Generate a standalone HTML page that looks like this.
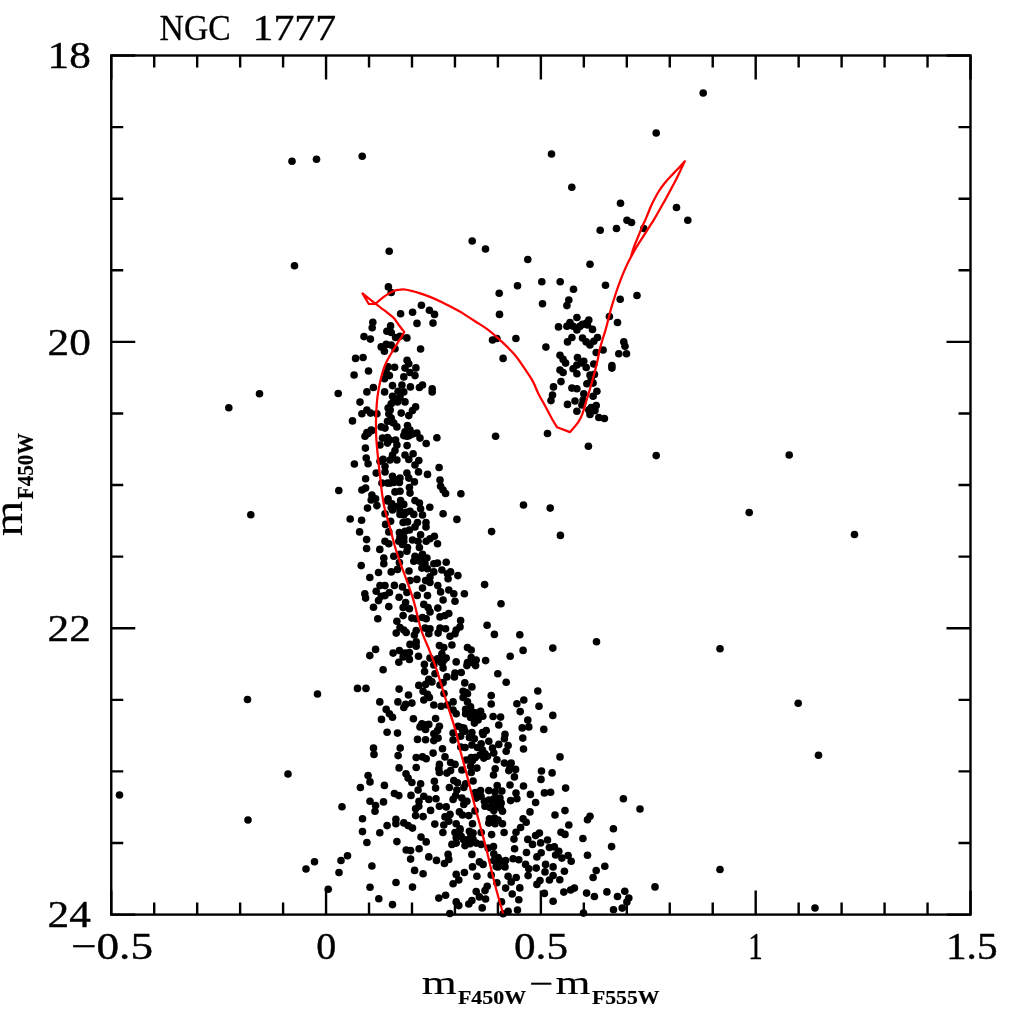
<!DOCTYPE html>
<html lang="en"><head><meta charset="utf-8"><title>NGC 1777</title>
<style>html,body{margin:0;padding:0;background:#fff}svg{display:block;filter:blur(0.5px)}</style></head>
<body>
<svg width="1024" height="1024" viewBox="0 0 1024 1024">
<rect width="1024" height="1024" fill="#fff"/>
<g fill="#000">
<circle cx="292.0" cy="161.2" r="3.8"/>
<circle cx="316.5" cy="159.2" r="3.8"/>
<circle cx="294.5" cy="265.8" r="3.8"/>
<circle cx="362.2" cy="156.2" r="3.8"/>
<circle cx="551.5" cy="154.0" r="3.8"/>
<circle cx="571.8" cy="187.2" r="3.8"/>
<circle cx="600.2" cy="230.2" r="3.8"/>
<circle cx="472.2" cy="241.0" r="3.8"/>
<circle cx="485.5" cy="249.0" r="3.8"/>
<circle cx="389.2" cy="251.2" r="3.8"/>
<circle cx="527.8" cy="259.5" r="3.8"/>
<circle cx="590.0" cy="264.2" r="3.8"/>
<circle cx="541.8" cy="281.8" r="3.8"/>
<circle cx="560.2" cy="281.8" r="3.8"/>
<circle cx="517.5" cy="285.8" r="3.8"/>
<circle cx="573.5" cy="289.2" r="3.8"/>
<circle cx="605.5" cy="285.2" r="3.8"/>
<circle cx="499.2" cy="293.2" r="3.8"/>
<circle cx="703.2" cy="93.0" r="3.8"/>
<circle cx="656.2" cy="133.0" r="3.8"/>
<circle cx="620.5" cy="203.2" r="3.8"/>
<circle cx="676.5" cy="207.5" r="3.8"/>
<circle cx="687.8" cy="220.2" r="3.8"/>
<circle cx="627.0" cy="220.2" r="3.8"/>
<circle cx="631.5" cy="222.5" r="3.8"/>
<circle cx="616.5" cy="228.5" r="3.8"/>
<circle cx="643.8" cy="228.5" r="3.8"/>
<circle cx="637.0" cy="295.5" r="3.8"/>
<circle cx="620.2" cy="299.2" r="3.8"/>
<circle cx="259.5" cy="393.8" r="3.8"/>
<circle cx="228.8" cy="407.8" r="3.8"/>
<circle cx="338.2" cy="393.5" r="3.8"/>
<circle cx="338.8" cy="490.5" r="3.8"/>
<circle cx="250.8" cy="514.8" r="3.8"/>
<circle cx="350.2" cy="519.0" r="3.8"/>
<circle cx="789.2" cy="455.0" r="3.8"/>
<circle cx="749.2" cy="512.5" r="3.8"/>
<circle cx="854.5" cy="534.5" r="3.8"/>
<circle cx="720.0" cy="648.8" r="3.8"/>
<circle cx="798.2" cy="703.2" r="3.8"/>
<circle cx="818.5" cy="755.2" r="3.8"/>
<circle cx="720.0" cy="869.5" r="3.8"/>
<circle cx="815.0" cy="908.0" r="3.8"/>
<circle cx="247.5" cy="699.5" r="3.8"/>
<circle cx="317.5" cy="694.0" r="3.8"/>
<circle cx="288.0" cy="774.0" r="3.8"/>
<circle cx="119.5" cy="795.0" r="3.8"/>
<circle cx="248.0" cy="820.0" r="3.8"/>
<circle cx="342.0" cy="806.8" r="3.8"/>
<circle cx="314.5" cy="861.8" r="3.8"/>
<circle cx="306.0" cy="869.0" r="3.8"/>
<circle cx="347.5" cy="855.8" r="3.8"/>
<circle cx="341.0" cy="860.5" r="3.8"/>
<circle cx="339.0" cy="872.5" r="3.8"/>
<circle cx="328.2" cy="889.2" r="3.8"/>
<circle cx="388.4" cy="286.9" r="3.8"/>
<circle cx="391.2" cy="292.5" r="3.8"/>
<circle cx="421.4" cy="305.2" r="3.8"/>
<circle cx="429.4" cy="310.2" r="3.8"/>
<circle cx="434.5" cy="314.4" r="3.8"/>
<circle cx="400.6" cy="313.8" r="3.8"/>
<circle cx="412.6" cy="312.2" r="3.8"/>
<circle cx="417.0" cy="323.4" r="3.8"/>
<circle cx="433.0" cy="323.1" r="3.8"/>
<circle cx="372.8" cy="322.2" r="3.8"/>
<circle cx="372.2" cy="327.8" r="3.8"/>
<circle cx="390.6" cy="325.9" r="3.8"/>
<circle cx="386.9" cy="331.2" r="3.8"/>
<circle cx="391.2" cy="332.5" r="3.8"/>
<circle cx="395.6" cy="337.5" r="3.8"/>
<circle cx="400.0" cy="336.2" r="3.8"/>
<circle cx="406.9" cy="337.9" r="3.8"/>
<circle cx="364.0" cy="336.6" r="3.8"/>
<circle cx="370.4" cy="339.1" r="3.8"/>
<circle cx="381.2" cy="346.9" r="3.8"/>
<circle cx="386.2" cy="344.4" r="3.8"/>
<circle cx="391.2" cy="345.0" r="3.8"/>
<circle cx="384.4" cy="351.2" r="3.8"/>
<circle cx="395.0" cy="348.8" r="3.8"/>
<circle cx="420.6" cy="349.0" r="3.8"/>
<circle cx="355.6" cy="358.4" r="3.8"/>
<circle cx="363.1" cy="357.5" r="3.8"/>
<circle cx="407.1" cy="360.2" r="3.8"/>
<circle cx="408.8" cy="363.8" r="3.8"/>
<circle cx="388.1" cy="366.9" r="3.8"/>
<circle cx="394.6" cy="367.2" r="3.8"/>
<circle cx="405.0" cy="368.1" r="3.8"/>
<circle cx="415.9" cy="367.9" r="3.8"/>
<circle cx="368.5" cy="371.0" r="3.8"/>
<circle cx="354.1" cy="375.0" r="3.8"/>
<circle cx="386.2" cy="372.5" r="3.8"/>
<circle cx="389.4" cy="375.6" r="3.8"/>
<circle cx="384.4" cy="378.8" r="3.8"/>
<circle cx="403.8" cy="376.9" r="3.8"/>
<circle cx="410.0" cy="372.5" r="3.8"/>
<circle cx="415.0" cy="375.6" r="3.8"/>
<circle cx="392.5" cy="385.6" r="3.8"/>
<circle cx="401.9" cy="385.0" r="3.8"/>
<circle cx="410.4" cy="386.9" r="3.8"/>
<circle cx="419.4" cy="387.5" r="3.8"/>
<circle cx="422.5" cy="385.0" r="3.8"/>
<circle cx="432.2" cy="388.8" r="3.8"/>
<circle cx="432.2" cy="391.9" r="3.8"/>
<circle cx="373.4" cy="387.5" r="3.8"/>
<circle cx="366.9" cy="391.9" r="3.8"/>
<circle cx="384.6" cy="391.9" r="3.8"/>
<circle cx="398.1" cy="391.2" r="3.8"/>
<circle cx="403.8" cy="391.9" r="3.8"/>
<circle cx="392.5" cy="396.2" r="3.8"/>
<circle cx="398.1" cy="398.8" r="3.8"/>
<circle cx="360.0" cy="402.1" r="3.8"/>
<circle cx="405.0" cy="401.9" r="3.8"/>
<circle cx="397.5" cy="401.9" r="3.8"/>
<circle cx="391.2" cy="403.8" r="3.8"/>
<circle cx="415.6" cy="406.9" r="3.8"/>
<circle cx="412.5" cy="410.6" r="3.8"/>
<circle cx="408.8" cy="415.6" r="3.8"/>
<circle cx="401.2" cy="413.1" r="3.8"/>
<circle cx="388.1" cy="408.1" r="3.8"/>
<circle cx="388.8" cy="413.8" r="3.8"/>
<circle cx="366.9" cy="410.0" r="3.8"/>
<circle cx="361.9" cy="413.8" r="3.8"/>
<circle cx="370.6" cy="413.1" r="3.8"/>
<circle cx="376.9" cy="413.8" r="3.8"/>
<circle cx="352.5" cy="420.9" r="3.8"/>
<circle cx="391.2" cy="418.1" r="3.8"/>
<circle cx="387.5" cy="421.2" r="3.8"/>
<circle cx="393.8" cy="423.1" r="3.8"/>
<circle cx="396.9" cy="426.9" r="3.8"/>
<circle cx="407.5" cy="425.6" r="3.8"/>
<circle cx="381.2" cy="426.9" r="3.8"/>
<circle cx="385.0" cy="428.1" r="3.8"/>
<circle cx="371.2" cy="430.0" r="3.8"/>
<circle cx="366.9" cy="432.5" r="3.8"/>
<circle cx="365.0" cy="436.2" r="3.8"/>
<circle cx="405.0" cy="431.9" r="3.8"/>
<circle cx="410.0" cy="430.0" r="3.8"/>
<circle cx="403.8" cy="435.6" r="3.8"/>
<circle cx="409.4" cy="435.6" r="3.8"/>
<circle cx="416.9" cy="433.1" r="3.8"/>
<circle cx="420.0" cy="438.1" r="3.8"/>
<circle cx="426.2" cy="443.5" r="3.8"/>
<circle cx="436.9" cy="437.8" r="3.8"/>
<circle cx="382.5" cy="438.1" r="3.8"/>
<circle cx="387.5" cy="437.5" r="3.8"/>
<circle cx="395.6" cy="440.0" r="3.8"/>
<circle cx="380.0" cy="445.0" r="3.8"/>
<circle cx="387.5" cy="443.1" r="3.8"/>
<circle cx="396.9" cy="445.0" r="3.8"/>
<circle cx="407.1" cy="445.6" r="3.8"/>
<circle cx="365.4" cy="448.1" r="3.8"/>
<circle cx="395.0" cy="450.6" r="3.8"/>
<circle cx="392.5" cy="455.0" r="3.8"/>
<circle cx="405.0" cy="455.0" r="3.8"/>
<circle cx="413.1" cy="453.8" r="3.8"/>
<circle cx="408.8" cy="459.4" r="3.8"/>
<circle cx="366.2" cy="458.1" r="3.8"/>
<circle cx="368.1" cy="463.8" r="3.8"/>
<circle cx="354.4" cy="464.0" r="3.8"/>
<circle cx="380.0" cy="461.2" r="3.8"/>
<circle cx="383.1" cy="459.4" r="3.8"/>
<circle cx="390.0" cy="460.0" r="3.8"/>
<circle cx="396.9" cy="460.0" r="3.8"/>
<circle cx="418.8" cy="460.6" r="3.8"/>
<circle cx="415.0" cy="465.0" r="3.8"/>
<circle cx="385.0" cy="466.2" r="3.8"/>
<circle cx="385.0" cy="471.9" r="3.8"/>
<circle cx="376.2" cy="473.1" r="3.8"/>
<circle cx="406.9" cy="473.1" r="3.8"/>
<circle cx="418.5" cy="471.9" r="3.8"/>
<circle cx="427.5" cy="474.4" r="3.8"/>
<circle cx="439.1" cy="467.5" r="3.8"/>
<circle cx="365.6" cy="478.8" r="3.8"/>
<circle cx="392.5" cy="476.2" r="3.8"/>
<circle cx="400.0" cy="478.1" r="3.8"/>
<circle cx="408.8" cy="478.1" r="3.8"/>
<circle cx="414.4" cy="481.9" r="3.8"/>
<circle cx="381.9" cy="483.1" r="3.8"/>
<circle cx="387.5" cy="483.1" r="3.8"/>
<circle cx="393.8" cy="482.5" r="3.8"/>
<circle cx="399.4" cy="482.5" r="3.8"/>
<circle cx="440.0" cy="480.0" r="3.8"/>
<circle cx="440.6" cy="486.2" r="3.8"/>
<circle cx="443.1" cy="490.0" r="3.8"/>
<circle cx="445.6" cy="493.5" r="3.8"/>
<circle cx="361.9" cy="490.0" r="3.8"/>
<circle cx="365.6" cy="488.1" r="3.8"/>
<circle cx="409.4" cy="487.5" r="3.8"/>
<circle cx="410.0" cy="493.1" r="3.8"/>
<circle cx="395.0" cy="491.9" r="3.8"/>
<circle cx="400.0" cy="491.2" r="3.8"/>
<circle cx="371.9" cy="495.0" r="3.8"/>
<circle cx="371.2" cy="500.0" r="3.8"/>
<circle cx="375.6" cy="498.8" r="3.8"/>
<circle cx="376.9" cy="505.6" r="3.8"/>
<circle cx="367.5" cy="508.1" r="3.8"/>
<circle cx="388.1" cy="498.8" r="3.8"/>
<circle cx="391.9" cy="503.8" r="3.8"/>
<circle cx="400.6" cy="500.6" r="3.8"/>
<circle cx="403.8" cy="504.4" r="3.8"/>
<circle cx="398.1" cy="506.2" r="3.8"/>
<circle cx="415.0" cy="500.6" r="3.8"/>
<circle cx="419.4" cy="503.1" r="3.8"/>
<circle cx="420.6" cy="508.8" r="3.8"/>
<circle cx="429.8" cy="507.2" r="3.8"/>
<circle cx="392.5" cy="510.0" r="3.8"/>
<circle cx="400.0" cy="510.6" r="3.8"/>
<circle cx="410.0" cy="511.2" r="3.8"/>
<circle cx="385.0" cy="513.8" r="3.8"/>
<circle cx="443.1" cy="513.8" r="3.8"/>
<circle cx="422.5" cy="515.0" r="3.8"/>
<circle cx="403.8" cy="515.0" r="3.8"/>
<circle cx="361.6" cy="520.2" r="3.8"/>
<circle cx="400.0" cy="514.4" r="3.8"/>
<circle cx="413.8" cy="514.4" r="3.8"/>
<circle cx="385.6" cy="524.4" r="3.8"/>
<circle cx="390.6" cy="521.2" r="3.8"/>
<circle cx="403.1" cy="522.5" r="3.8"/>
<circle cx="407.5" cy="521.9" r="3.8"/>
<circle cx="417.5" cy="522.5" r="3.8"/>
<circle cx="415.0" cy="526.9" r="3.8"/>
<circle cx="426.0" cy="522.5" r="3.8"/>
<circle cx="426.0" cy="526.9" r="3.8"/>
<circle cx="359.6" cy="531.9" r="3.8"/>
<circle cx="388.8" cy="531.9" r="3.8"/>
<circle cx="399.4" cy="532.5" r="3.8"/>
<circle cx="405.0" cy="531.2" r="3.8"/>
<circle cx="409.4" cy="530.0" r="3.8"/>
<circle cx="420.6" cy="534.8" r="3.8"/>
<circle cx="434.4" cy="536.2" r="3.8"/>
<circle cx="430.0" cy="538.8" r="3.8"/>
<circle cx="426.2" cy="541.2" r="3.8"/>
<circle cx="437.5" cy="543.8" r="3.8"/>
<circle cx="366.6" cy="539.6" r="3.8"/>
<circle cx="385.0" cy="541.2" r="3.8"/>
<circle cx="388.8" cy="543.8" r="3.8"/>
<circle cx="400.0" cy="536.9" r="3.8"/>
<circle cx="403.8" cy="541.2" r="3.8"/>
<circle cx="402.5" cy="544.4" r="3.8"/>
<circle cx="412.5" cy="540.0" r="3.8"/>
<circle cx="418.1" cy="541.2" r="3.8"/>
<circle cx="419.4" cy="547.5" r="3.8"/>
<circle cx="407.5" cy="547.5" r="3.8"/>
<circle cx="406.9" cy="551.2" r="3.8"/>
<circle cx="366.6" cy="548.5" r="3.8"/>
<circle cx="379.8" cy="549.4" r="3.8"/>
<circle cx="393.8" cy="556.2" r="3.8"/>
<circle cx="400.0" cy="554.4" r="3.8"/>
<circle cx="383.8" cy="558.1" r="3.8"/>
<circle cx="383.8" cy="563.8" r="3.8"/>
<circle cx="415.0" cy="556.2" r="3.8"/>
<circle cx="422.5" cy="554.4" r="3.8"/>
<circle cx="426.9" cy="558.1" r="3.8"/>
<circle cx="413.8" cy="561.2" r="3.8"/>
<circle cx="420.0" cy="561.2" r="3.8"/>
<circle cx="425.0" cy="563.8" r="3.8"/>
<circle cx="421.9" cy="568.1" r="3.8"/>
<circle cx="427.5" cy="568.8" r="3.8"/>
<circle cx="433.8" cy="563.8" r="3.8"/>
<circle cx="437.5" cy="563.1" r="3.8"/>
<circle cx="446.2" cy="562.2" r="3.8"/>
<circle cx="361.2" cy="565.6" r="3.8"/>
<circle cx="399.4" cy="562.5" r="3.8"/>
<circle cx="397.5" cy="569.4" r="3.8"/>
<circle cx="391.2" cy="571.9" r="3.8"/>
<circle cx="378.5" cy="572.5" r="3.8"/>
<circle cx="409.0" cy="571.0" r="3.8"/>
<circle cx="433.8" cy="571.9" r="3.8"/>
<circle cx="430.0" cy="576.9" r="3.8"/>
<circle cx="441.9" cy="570.0" r="3.8"/>
<circle cx="447.5" cy="573.8" r="3.8"/>
<circle cx="450.6" cy="571.9" r="3.8"/>
<circle cx="448.1" cy="578.8" r="3.8"/>
<circle cx="369.8" cy="577.5" r="3.8"/>
<circle cx="410.0" cy="580.6" r="3.8"/>
<circle cx="416.9" cy="579.4" r="3.8"/>
<circle cx="425.6" cy="580.6" r="3.8"/>
<circle cx="430.0" cy="582.5" r="3.8"/>
<circle cx="422.5" cy="588.1" r="3.8"/>
<circle cx="437.8" cy="585.6" r="3.8"/>
<circle cx="394.4" cy="585.4" r="3.8"/>
<circle cx="402.5" cy="586.9" r="3.8"/>
<circle cx="380.0" cy="585.6" r="3.8"/>
<circle cx="385.0" cy="585.6" r="3.8"/>
<circle cx="376.2" cy="591.2" r="3.8"/>
<circle cx="389.4" cy="592.5" r="3.8"/>
<circle cx="385.0" cy="595.6" r="3.8"/>
<circle cx="381.2" cy="596.2" r="3.8"/>
<circle cx="378.5" cy="600.6" r="3.8"/>
<circle cx="364.8" cy="593.8" r="3.8"/>
<circle cx="365.6" cy="598.1" r="3.8"/>
<circle cx="406.9" cy="592.5" r="3.8"/>
<circle cx="417.2" cy="595.4" r="3.8"/>
<circle cx="427.5" cy="595.6" r="3.8"/>
<circle cx="440.6" cy="591.9" r="3.8"/>
<circle cx="448.8" cy="590.0" r="3.8"/>
<circle cx="453.8" cy="593.8" r="3.8"/>
<circle cx="443.1" cy="600.0" r="3.8"/>
<circle cx="455.0" cy="601.2" r="3.8"/>
<circle cx="399.1" cy="597.2" r="3.8"/>
<circle cx="405.6" cy="602.5" r="3.8"/>
<circle cx="403.1" cy="607.5" r="3.8"/>
<circle cx="409.4" cy="608.8" r="3.8"/>
<circle cx="373.5" cy="607.2" r="3.8"/>
<circle cx="388.8" cy="606.6" r="3.8"/>
<circle cx="423.8" cy="604.4" r="3.8"/>
<circle cx="428.1" cy="607.5" r="3.8"/>
<circle cx="430.0" cy="611.9" r="3.8"/>
<circle cx="437.8" cy="608.1" r="3.8"/>
<circle cx="403.1" cy="615.6" r="3.8"/>
<circle cx="411.9" cy="618.1" r="3.8"/>
<circle cx="416.2" cy="618.8" r="3.8"/>
<circle cx="422.5" cy="617.5" r="3.8"/>
<circle cx="426.2" cy="618.8" r="3.8"/>
<circle cx="440.0" cy="616.9" r="3.8"/>
<circle cx="445.0" cy="615.6" r="3.8"/>
<circle cx="448.8" cy="613.5" r="3.8"/>
<circle cx="377.8" cy="618.8" r="3.8"/>
<circle cx="396.9" cy="621.2" r="3.8"/>
<circle cx="400.0" cy="627.5" r="3.8"/>
<circle cx="396.2" cy="633.1" r="3.8"/>
<circle cx="403.8" cy="630.0" r="3.8"/>
<circle cx="406.2" cy="632.5" r="3.8"/>
<circle cx="416.2" cy="630.6" r="3.8"/>
<circle cx="414.4" cy="635.0" r="3.8"/>
<circle cx="425.0" cy="628.1" r="3.8"/>
<circle cx="430.0" cy="628.8" r="3.8"/>
<circle cx="428.8" cy="633.8" r="3.8"/>
<circle cx="440.0" cy="628.1" r="3.8"/>
<circle cx="445.6" cy="628.8" r="3.8"/>
<circle cx="438.1" cy="633.1" r="3.8"/>
<circle cx="456.2" cy="630.0" r="3.8"/>
<circle cx="450.0" cy="636.2" r="3.8"/>
<circle cx="455.0" cy="633.8" r="3.8"/>
<circle cx="410.0" cy="644.4" r="3.8"/>
<circle cx="416.2" cy="641.9" r="3.8"/>
<circle cx="416.2" cy="646.2" r="3.8"/>
<circle cx="375.6" cy="649.4" r="3.8"/>
<circle cx="369.8" cy="655.6" r="3.8"/>
<circle cx="439.4" cy="645.6" r="3.8"/>
<circle cx="443.8" cy="647.5" r="3.8"/>
<circle cx="451.9" cy="645.0" r="3.8"/>
<circle cx="393.1" cy="653.1" r="3.8"/>
<circle cx="399.4" cy="650.6" r="3.8"/>
<circle cx="405.0" cy="653.1" r="3.8"/>
<circle cx="409.4" cy="652.5" r="3.8"/>
<circle cx="403.1" cy="656.9" r="3.8"/>
<circle cx="409.4" cy="659.4" r="3.8"/>
<circle cx="398.8" cy="662.2" r="3.8"/>
<circle cx="418.5" cy="656.2" r="3.8"/>
<circle cx="441.9" cy="653.8" r="3.8"/>
<circle cx="446.2" cy="658.1" r="3.8"/>
<circle cx="430.0" cy="658.1" r="3.8"/>
<circle cx="436.2" cy="660.0" r="3.8"/>
<circle cx="442.5" cy="662.5" r="3.8"/>
<circle cx="456.2" cy="661.9" r="3.8"/>
<circle cx="424.4" cy="664.4" r="3.8"/>
<circle cx="433.8" cy="665.0" r="3.8"/>
<circle cx="443.1" cy="668.1" r="3.8"/>
<circle cx="383.1" cy="669.8" r="3.8"/>
<circle cx="424.6" cy="671.6" r="3.8"/>
<circle cx="435.0" cy="673.8" r="3.8"/>
<circle cx="446.9" cy="676.9" r="3.8"/>
<circle cx="455.0" cy="673.1" r="3.8"/>
<circle cx="454.4" cy="676.9" r="3.8"/>
<circle cx="428.8" cy="679.4" r="3.8"/>
<circle cx="431.9" cy="681.9" r="3.8"/>
<circle cx="425.6" cy="684.4" r="3.8"/>
<circle cx="418.8" cy="685.4" r="3.8"/>
<circle cx="440.0" cy="685.0" r="3.8"/>
<circle cx="443.1" cy="682.5" r="3.8"/>
<circle cx="357.5" cy="688.4" r="3.8"/>
<circle cx="366.0" cy="688.4" r="3.8"/>
<circle cx="399.1" cy="689.1" r="3.8"/>
<circle cx="423.1" cy="691.2" r="3.8"/>
<circle cx="427.5" cy="694.4" r="3.8"/>
<circle cx="429.4" cy="697.5" r="3.8"/>
<circle cx="423.8" cy="700.0" r="3.8"/>
<circle cx="444.0" cy="693.5" r="3.8"/>
<circle cx="408.5" cy="695.0" r="3.8"/>
<circle cx="379.8" cy="701.9" r="3.8"/>
<circle cx="397.9" cy="701.9" r="3.8"/>
<circle cx="411.9" cy="703.1" r="3.8"/>
<circle cx="405.6" cy="704.4" r="3.8"/>
<circle cx="403.8" cy="707.5" r="3.8"/>
<circle cx="433.8" cy="705.0" r="3.8"/>
<circle cx="441.2" cy="706.2" r="3.8"/>
<circle cx="453.1" cy="701.9" r="3.8"/>
<circle cx="447.5" cy="705.0" r="3.8"/>
<circle cx="453.1" cy="710.0" r="3.8"/>
<circle cx="456.2" cy="713.8" r="3.8"/>
<circle cx="386.2" cy="709.4" r="3.8"/>
<circle cx="389.4" cy="713.8" r="3.8"/>
<circle cx="392.5" cy="717.2" r="3.8"/>
<circle cx="381.5" cy="719.4" r="3.8"/>
<circle cx="413.4" cy="718.8" r="3.8"/>
<circle cx="435.6" cy="718.5" r="3.8"/>
<circle cx="421.9" cy="723.8" r="3.8"/>
<circle cx="428.8" cy="724.4" r="3.8"/>
<circle cx="420.0" cy="726.9" r="3.8"/>
<circle cx="425.6" cy="729.4" r="3.8"/>
<circle cx="439.4" cy="726.2" r="3.8"/>
<circle cx="437.5" cy="730.6" r="3.8"/>
<circle cx="433.8" cy="733.8" r="3.8"/>
<circle cx="387.1" cy="732.2" r="3.8"/>
<circle cx="397.5" cy="733.1" r="3.8"/>
<circle cx="417.5" cy="739.4" r="3.8"/>
<circle cx="425.6" cy="739.8" r="3.8"/>
<circle cx="433.8" cy="740.6" r="3.8"/>
<circle cx="438.1" cy="738.1" r="3.8"/>
<circle cx="453.1" cy="733.1" r="3.8"/>
<circle cx="453.1" cy="740.0" r="3.8"/>
<circle cx="373.5" cy="748.1" r="3.8"/>
<circle cx="374.0" cy="754.4" r="3.8"/>
<circle cx="400.2" cy="748.1" r="3.8"/>
<circle cx="398.1" cy="755.6" r="3.8"/>
<circle cx="433.1" cy="753.1" r="3.8"/>
<circle cx="442.5" cy="748.8" r="3.8"/>
<circle cx="445.0" cy="756.9" r="3.8"/>
<circle cx="422.5" cy="756.9" r="3.8"/>
<circle cx="416.2" cy="757.5" r="3.8"/>
<circle cx="426.2" cy="758.8" r="3.8"/>
<circle cx="416.2" cy="767.5" r="3.8"/>
<circle cx="399.1" cy="767.9" r="3.8"/>
<circle cx="439.4" cy="764.4" r="3.8"/>
<circle cx="438.8" cy="768.8" r="3.8"/>
<circle cx="439.4" cy="772.5" r="3.8"/>
<circle cx="450.6" cy="762.5" r="3.8"/>
<circle cx="455.0" cy="764.4" r="3.8"/>
<circle cx="450.6" cy="770.6" r="3.8"/>
<circle cx="446.9" cy="773.1" r="3.8"/>
<circle cx="368.1" cy="775.6" r="3.8"/>
<circle cx="370.0" cy="781.9" r="3.8"/>
<circle cx="360.4" cy="787.5" r="3.8"/>
<circle cx="384.4" cy="785.4" r="3.8"/>
<circle cx="406.0" cy="773.8" r="3.8"/>
<circle cx="408.1" cy="778.1" r="3.8"/>
<circle cx="411.9" cy="782.5" r="3.8"/>
<circle cx="420.6" cy="783.8" r="3.8"/>
<circle cx="434.4" cy="781.2" r="3.8"/>
<circle cx="435.6" cy="788.1" r="3.8"/>
<circle cx="418.1" cy="790.0" r="3.8"/>
<circle cx="453.8" cy="780.6" r="3.8"/>
<circle cx="449.4" cy="787.5" r="3.8"/>
<circle cx="456.9" cy="790.0" r="3.8"/>
<circle cx="394.4" cy="793.5" r="3.8"/>
<circle cx="398.8" cy="795.6" r="3.8"/>
<circle cx="411.0" cy="795.4" r="3.8"/>
<circle cx="423.8" cy="796.2" r="3.8"/>
<circle cx="428.8" cy="799.4" r="3.8"/>
<circle cx="436.0" cy="798.8" r="3.8"/>
<circle cx="453.1" cy="799.4" r="3.8"/>
<circle cx="419.0" cy="801.2" r="3.8"/>
<circle cx="418.8" cy="806.2" r="3.8"/>
<circle cx="415.6" cy="808.8" r="3.8"/>
<circle cx="370.0" cy="801.2" r="3.8"/>
<circle cx="383.5" cy="801.9" r="3.8"/>
<circle cx="375.6" cy="805.6" r="3.8"/>
<circle cx="375.0" cy="811.2" r="3.8"/>
<circle cx="439.4" cy="806.2" r="3.8"/>
<circle cx="446.2" cy="806.9" r="3.8"/>
<circle cx="430.6" cy="810.4" r="3.8"/>
<circle cx="415.6" cy="815.6" r="3.8"/>
<circle cx="423.1" cy="816.6" r="3.8"/>
<circle cx="450.0" cy="814.4" r="3.8"/>
<circle cx="445.0" cy="816.9" r="3.8"/>
<circle cx="448.8" cy="821.2" r="3.8"/>
<circle cx="443.8" cy="825.0" r="3.8"/>
<circle cx="362.5" cy="818.8" r="3.8"/>
<circle cx="395.9" cy="819.4" r="3.8"/>
<circle cx="395.9" cy="823.8" r="3.8"/>
<circle cx="403.8" cy="822.9" r="3.8"/>
<circle cx="408.1" cy="825.6" r="3.8"/>
<circle cx="412.5" cy="828.1" r="3.8"/>
<circle cx="387.1" cy="825.6" r="3.8"/>
<circle cx="434.8" cy="824.1" r="3.8"/>
<circle cx="456.2" cy="823.8" r="3.8"/>
<circle cx="362.5" cy="831.6" r="3.8"/>
<circle cx="379.8" cy="832.8" r="3.8"/>
<circle cx="442.9" cy="832.5" r="3.8"/>
<circle cx="455.0" cy="832.5" r="3.8"/>
<circle cx="456.2" cy="837.5" r="3.8"/>
<circle cx="421.0" cy="837.1" r="3.8"/>
<circle cx="426.2" cy="841.9" r="3.8"/>
<circle cx="451.9" cy="844.4" r="3.8"/>
<circle cx="456.2" cy="843.1" r="3.8"/>
<circle cx="366.9" cy="842.5" r="3.8"/>
<circle cx="396.9" cy="841.6" r="3.8"/>
<circle cx="406.2" cy="850.0" r="3.8"/>
<circle cx="410.6" cy="850.6" r="3.8"/>
<circle cx="419.1" cy="848.8" r="3.8"/>
<circle cx="410.6" cy="859.1" r="3.8"/>
<circle cx="428.8" cy="856.9" r="3.8"/>
<circle cx="436.5" cy="860.4" r="3.8"/>
<circle cx="448.1" cy="854.4" r="3.8"/>
<circle cx="448.8" cy="859.4" r="3.8"/>
<circle cx="444.4" cy="863.5" r="3.8"/>
<circle cx="371.9" cy="866.0" r="3.8"/>
<circle cx="414.6" cy="870.4" r="3.8"/>
<circle cx="423.1" cy="873.8" r="3.8"/>
<circle cx="456.2" cy="874.4" r="3.8"/>
<circle cx="370.0" cy="887.2" r="3.8"/>
<circle cx="396.0" cy="882.5" r="3.8"/>
<circle cx="412.5" cy="887.1" r="3.8"/>
<circle cx="453.1" cy="883.8" r="3.8"/>
<circle cx="378.8" cy="898.8" r="3.8"/>
<circle cx="392.5" cy="904.6" r="3.8"/>
<circle cx="445.6" cy="895.2" r="3.8"/>
<circle cx="438.8" cy="898.1" r="3.8"/>
<circle cx="456.2" cy="901.9" r="3.8"/>
<circle cx="449.8" cy="913.5" r="3.8"/>
<circle cx="568.8" cy="300.0" r="3.8"/>
<circle cx="566.9" cy="305.6" r="3.8"/>
<circle cx="542.5" cy="303.8" r="3.8"/>
<circle cx="499.5" cy="314.4" r="3.8"/>
<circle cx="576.9" cy="317.5" r="3.8"/>
<circle cx="558.5" cy="326.9" r="3.8"/>
<circle cx="566.9" cy="326.2" r="3.8"/>
<circle cx="570.0" cy="322.5" r="3.8"/>
<circle cx="573.1" cy="326.2" r="3.8"/>
<circle cx="576.9" cy="330.0" r="3.8"/>
<circle cx="492.5" cy="340.0" r="3.8"/>
<circle cx="496.9" cy="338.5" r="3.8"/>
<circle cx="515.9" cy="338.5" r="3.8"/>
<circle cx="571.9" cy="337.5" r="3.8"/>
<circle cx="567.5" cy="341.9" r="3.8"/>
<circle cx="545.9" cy="347.1" r="3.8"/>
<circle cx="560.0" cy="355.2" r="3.8"/>
<circle cx="563.1" cy="359.4" r="3.8"/>
<circle cx="565.6" cy="363.1" r="3.8"/>
<circle cx="503.1" cy="358.4" r="3.8"/>
<circle cx="577.5" cy="357.5" r="3.8"/>
<circle cx="560.0" cy="370.0" r="3.8"/>
<circle cx="563.1" cy="372.5" r="3.8"/>
<circle cx="573.1" cy="368.8" r="3.8"/>
<circle cx="576.9" cy="365.0" r="3.8"/>
<circle cx="576.9" cy="373.8" r="3.8"/>
<circle cx="561.0" cy="381.6" r="3.8"/>
<circle cx="553.5" cy="386.9" r="3.8"/>
<circle cx="552.5" cy="395.0" r="3.8"/>
<circle cx="571.9" cy="388.1" r="3.8"/>
<circle cx="576.9" cy="388.8" r="3.8"/>
<circle cx="551.0" cy="400.6" r="3.8"/>
<circle cx="575.0" cy="401.0" r="3.8"/>
<circle cx="567.5" cy="404.4" r="3.8"/>
<circle cx="576.9" cy="411.2" r="3.8"/>
<circle cx="495.6" cy="436.2" r="3.8"/>
<circle cx="547.5" cy="433.5" r="3.8"/>
<circle cx="460.9" cy="493.8" r="3.8"/>
<circle cx="523.5" cy="505.0" r="3.8"/>
<circle cx="550.2" cy="508.1" r="3.8"/>
<circle cx="456.9" cy="519.4" r="3.8"/>
<circle cx="491.6" cy="531.6" r="3.8"/>
<circle cx="560.4" cy="535.4" r="3.8"/>
<circle cx="457.9" cy="575.6" r="3.8"/>
<circle cx="484.6" cy="584.6" r="3.8"/>
<circle cx="464.4" cy="593.8" r="3.8"/>
<circle cx="501.0" cy="603.8" r="3.8"/>
<circle cx="460.6" cy="620.6" r="3.8"/>
<circle cx="460.0" cy="626.9" r="3.8"/>
<circle cx="487.1" cy="625.2" r="3.8"/>
<circle cx="494.4" cy="634.4" r="3.8"/>
<circle cx="519.8" cy="634.8" r="3.8"/>
<circle cx="467.5" cy="647.5" r="3.8"/>
<circle cx="471.2" cy="650.0" r="3.8"/>
<circle cx="552.8" cy="648.1" r="3.8"/>
<circle cx="523.1" cy="650.4" r="3.8"/>
<circle cx="510.2" cy="656.2" r="3.8"/>
<circle cx="471.2" cy="657.5" r="3.8"/>
<circle cx="476.2" cy="660.0" r="3.8"/>
<circle cx="467.5" cy="662.5" r="3.8"/>
<circle cx="466.9" cy="665.6" r="3.8"/>
<circle cx="475.6" cy="665.6" r="3.8"/>
<circle cx="485.6" cy="660.6" r="3.8"/>
<circle cx="461.2" cy="672.5" r="3.8"/>
<circle cx="497.8" cy="673.8" r="3.8"/>
<circle cx="506.2" cy="682.2" r="3.8"/>
<circle cx="464.8" cy="682.9" r="3.8"/>
<circle cx="471.9" cy="686.9" r="3.8"/>
<circle cx="463.1" cy="691.2" r="3.8"/>
<circle cx="467.5" cy="693.8" r="3.8"/>
<circle cx="463.1" cy="697.5" r="3.8"/>
<circle cx="467.5" cy="701.9" r="3.8"/>
<circle cx="537.8" cy="691.0" r="3.8"/>
<circle cx="491.2" cy="695.6" r="3.8"/>
<circle cx="491.2" cy="704.0" r="3.8"/>
<circle cx="523.8" cy="700.0" r="3.8"/>
<circle cx="516.9" cy="703.8" r="3.8"/>
<circle cx="539.0" cy="706.2" r="3.8"/>
<circle cx="520.2" cy="711.6" r="3.8"/>
<circle cx="552.8" cy="715.4" r="3.8"/>
<circle cx="465.6" cy="709.4" r="3.8"/>
<circle cx="470.6" cy="706.9" r="3.8"/>
<circle cx="465.6" cy="713.8" r="3.8"/>
<circle cx="470.6" cy="717.5" r="3.8"/>
<circle cx="476.9" cy="713.1" r="3.8"/>
<circle cx="480.6" cy="711.2" r="3.8"/>
<circle cx="482.8" cy="716.2" r="3.8"/>
<circle cx="478.1" cy="720.0" r="3.8"/>
<circle cx="474.4" cy="723.1" r="3.8"/>
<circle cx="493.1" cy="716.5" r="3.8"/>
<circle cx="500.6" cy="717.1" r="3.8"/>
<circle cx="498.8" cy="725.0" r="3.8"/>
<circle cx="527.8" cy="720.0" r="3.8"/>
<circle cx="528.8" cy="726.9" r="3.8"/>
<circle cx="522.2" cy="727.9" r="3.8"/>
<circle cx="543.8" cy="729.4" r="3.8"/>
<circle cx="458.1" cy="726.2" r="3.8"/>
<circle cx="463.8" cy="728.1" r="3.8"/>
<circle cx="460.6" cy="736.2" r="3.8"/>
<circle cx="471.9" cy="732.5" r="3.8"/>
<circle cx="469.4" cy="737.5" r="3.8"/>
<circle cx="474.4" cy="738.8" r="3.8"/>
<circle cx="486.2" cy="730.6" r="3.8"/>
<circle cx="483.1" cy="734.4" r="3.8"/>
<circle cx="505.0" cy="734.4" r="3.8"/>
<circle cx="504.4" cy="738.8" r="3.8"/>
<circle cx="522.8" cy="738.1" r="3.8"/>
<circle cx="488.8" cy="741.2" r="3.8"/>
<circle cx="481.2" cy="743.8" r="3.8"/>
<circle cx="498.8" cy="744.4" r="3.8"/>
<circle cx="508.1" cy="745.6" r="3.8"/>
<circle cx="506.2" cy="751.2" r="3.8"/>
<circle cx="523.5" cy="749.0" r="3.8"/>
<circle cx="465.0" cy="747.5" r="3.8"/>
<circle cx="471.9" cy="745.0" r="3.8"/>
<circle cx="482.5" cy="750.0" r="3.8"/>
<circle cx="492.5" cy="748.1" r="3.8"/>
<circle cx="493.8" cy="753.1" r="3.8"/>
<circle cx="480.0" cy="755.0" r="3.8"/>
<circle cx="487.5" cy="756.2" r="3.8"/>
<circle cx="560.0" cy="756.9" r="3.8"/>
<circle cx="471.2" cy="757.5" r="3.8"/>
<circle cx="475.0" cy="757.5" r="3.8"/>
<circle cx="483.8" cy="758.1" r="3.8"/>
<circle cx="496.9" cy="759.8" r="3.8"/>
<circle cx="504.4" cy="763.1" r="3.8"/>
<circle cx="511.2" cy="763.1" r="3.8"/>
<circle cx="461.9" cy="770.0" r="3.8"/>
<circle cx="470.6" cy="766.2" r="3.8"/>
<circle cx="476.9" cy="768.1" r="3.8"/>
<circle cx="471.2" cy="772.5" r="3.8"/>
<circle cx="495.2" cy="768.8" r="3.8"/>
<circle cx="493.5" cy="775.0" r="3.8"/>
<circle cx="508.8" cy="770.6" r="3.8"/>
<circle cx="515.6" cy="769.4" r="3.8"/>
<circle cx="514.4" cy="776.9" r="3.8"/>
<circle cx="541.5" cy="771.0" r="3.8"/>
<circle cx="552.1" cy="772.9" r="3.8"/>
<circle cx="541.0" cy="779.4" r="3.8"/>
<circle cx="465.6" cy="783.8" r="3.8"/>
<circle cx="473.1" cy="781.0" r="3.8"/>
<circle cx="463.8" cy="787.5" r="3.8"/>
<circle cx="510.0" cy="785.0" r="3.8"/>
<circle cx="523.5" cy="786.0" r="3.8"/>
<circle cx="497.2" cy="785.6" r="3.8"/>
<circle cx="565.6" cy="788.1" r="3.8"/>
<circle cx="455.6" cy="795.6" r="3.8"/>
<circle cx="480.6" cy="790.6" r="3.8"/>
<circle cx="478.1" cy="794.4" r="3.8"/>
<circle cx="476.2" cy="798.1" r="3.8"/>
<circle cx="488.8" cy="790.6" r="3.8"/>
<circle cx="495.0" cy="791.9" r="3.8"/>
<circle cx="501.9" cy="791.0" r="3.8"/>
<circle cx="516.0" cy="793.1" r="3.8"/>
<circle cx="516.9" cy="798.8" r="3.8"/>
<circle cx="510.6" cy="800.6" r="3.8"/>
<circle cx="530.4" cy="794.4" r="3.8"/>
<circle cx="544.4" cy="792.9" r="3.8"/>
<circle cx="550.6" cy="792.2" r="3.8"/>
<circle cx="461.9" cy="798.1" r="3.8"/>
<circle cx="466.9" cy="801.2" r="3.8"/>
<circle cx="463.8" cy="804.4" r="3.8"/>
<circle cx="484.4" cy="801.2" r="3.8"/>
<circle cx="488.8" cy="800.0" r="3.8"/>
<circle cx="493.8" cy="798.8" r="3.8"/>
<circle cx="500.0" cy="798.1" r="3.8"/>
<circle cx="501.2" cy="803.1" r="3.8"/>
<circle cx="495.0" cy="805.0" r="3.8"/>
<circle cx="485.0" cy="806.2" r="3.8"/>
<circle cx="490.0" cy="807.5" r="3.8"/>
<circle cx="500.6" cy="808.1" r="3.8"/>
<circle cx="493.8" cy="810.6" r="3.8"/>
<circle cx="502.5" cy="811.2" r="3.8"/>
<circle cx="535.6" cy="802.5" r="3.8"/>
<circle cx="459.4" cy="811.9" r="3.8"/>
<circle cx="462.5" cy="815.0" r="3.8"/>
<circle cx="468.8" cy="815.6" r="3.8"/>
<circle cx="475.0" cy="810.9" r="3.8"/>
<circle cx="530.0" cy="811.9" r="3.8"/>
<circle cx="565.0" cy="810.6" r="3.8"/>
<circle cx="555.0" cy="815.0" r="3.8"/>
<circle cx="489.4" cy="818.8" r="3.8"/>
<circle cx="494.4" cy="818.1" r="3.8"/>
<circle cx="498.1" cy="820.0" r="3.8"/>
<circle cx="488.8" cy="823.1" r="3.8"/>
<circle cx="495.0" cy="823.8" r="3.8"/>
<circle cx="502.5" cy="823.8" r="3.8"/>
<circle cx="523.1" cy="818.8" r="3.8"/>
<circle cx="526.2" cy="822.2" r="3.8"/>
<circle cx="472.5" cy="823.8" r="3.8"/>
<circle cx="568.8" cy="825.0" r="3.8"/>
<circle cx="520.6" cy="827.5" r="3.8"/>
<circle cx="460.0" cy="828.8" r="3.8"/>
<circle cx="469.4" cy="831.2" r="3.8"/>
<circle cx="473.1" cy="833.1" r="3.8"/>
<circle cx="481.2" cy="832.5" r="3.8"/>
<circle cx="491.6" cy="834.6" r="3.8"/>
<circle cx="504.1" cy="832.5" r="3.8"/>
<circle cx="516.0" cy="832.2" r="3.8"/>
<circle cx="539.4" cy="833.1" r="3.8"/>
<circle cx="535.6" cy="835.6" r="3.8"/>
<circle cx="561.0" cy="832.2" r="3.8"/>
<circle cx="565.0" cy="834.4" r="3.8"/>
<circle cx="461.2" cy="836.2" r="3.8"/>
<circle cx="467.5" cy="840.0" r="3.8"/>
<circle cx="473.1" cy="839.4" r="3.8"/>
<circle cx="465.0" cy="845.6" r="3.8"/>
<circle cx="470.0" cy="843.8" r="3.8"/>
<circle cx="476.2" cy="843.1" r="3.8"/>
<circle cx="481.2" cy="844.4" r="3.8"/>
<circle cx="514.0" cy="839.1" r="3.8"/>
<circle cx="527.8" cy="839.4" r="3.8"/>
<circle cx="532.5" cy="844.4" r="3.8"/>
<circle cx="540.6" cy="842.9" r="3.8"/>
<circle cx="547.5" cy="840.0" r="3.8"/>
<circle cx="549.4" cy="847.5" r="3.8"/>
<circle cx="554.4" cy="846.9" r="3.8"/>
<circle cx="493.5" cy="846.6" r="3.8"/>
<circle cx="488.1" cy="848.1" r="3.8"/>
<circle cx="514.6" cy="848.8" r="3.8"/>
<circle cx="526.5" cy="852.5" r="3.8"/>
<circle cx="541.2" cy="852.8" r="3.8"/>
<circle cx="536.9" cy="856.9" r="3.8"/>
<circle cx="558.8" cy="851.2" r="3.8"/>
<circle cx="555.6" cy="855.0" r="3.8"/>
<circle cx="561.9" cy="858.1" r="3.8"/>
<circle cx="568.1" cy="855.6" r="3.8"/>
<circle cx="571.2" cy="861.2" r="3.8"/>
<circle cx="471.9" cy="854.4" r="3.8"/>
<circle cx="493.8" cy="853.8" r="3.8"/>
<circle cx="498.1" cy="857.5" r="3.8"/>
<circle cx="493.8" cy="860.6" r="3.8"/>
<circle cx="501.2" cy="861.2" r="3.8"/>
<circle cx="505.6" cy="860.6" r="3.8"/>
<circle cx="513.1" cy="858.8" r="3.8"/>
<circle cx="518.8" cy="859.8" r="3.8"/>
<circle cx="479.4" cy="861.9" r="3.8"/>
<circle cx="483.1" cy="864.4" r="3.8"/>
<circle cx="472.5" cy="866.9" r="3.8"/>
<circle cx="498.1" cy="866.9" r="3.8"/>
<circle cx="505.0" cy="866.9" r="3.8"/>
<circle cx="500.0" cy="865.0" r="3.8"/>
<circle cx="525.6" cy="864.4" r="3.8"/>
<circle cx="528.8" cy="868.8" r="3.8"/>
<circle cx="536.2" cy="868.1" r="3.8"/>
<circle cx="545.6" cy="864.4" r="3.8"/>
<circle cx="553.1" cy="866.9" r="3.8"/>
<circle cx="564.4" cy="871.2" r="3.8"/>
<circle cx="545.0" cy="871.9" r="3.8"/>
<circle cx="464.4" cy="872.5" r="3.8"/>
<circle cx="476.9" cy="876.2" r="3.8"/>
<circle cx="491.2" cy="875.0" r="3.8"/>
<circle cx="508.1" cy="876.2" r="3.8"/>
<circle cx="516.2" cy="877.5" r="3.8"/>
<circle cx="528.1" cy="875.6" r="3.8"/>
<circle cx="553.1" cy="875.6" r="3.8"/>
<circle cx="458.8" cy="880.0" r="3.8"/>
<circle cx="511.2" cy="881.9" r="3.8"/>
<circle cx="549.4" cy="880.0" r="3.8"/>
<circle cx="559.8" cy="879.8" r="3.8"/>
<circle cx="540.0" cy="880.6" r="3.8"/>
<circle cx="536.9" cy="884.4" r="3.8"/>
<circle cx="496.9" cy="882.8" r="3.8"/>
<circle cx="487.2" cy="886.2" r="3.8"/>
<circle cx="485.0" cy="890.6" r="3.8"/>
<circle cx="476.2" cy="891.6" r="3.8"/>
<circle cx="505.6" cy="888.1" r="3.8"/>
<circle cx="519.8" cy="887.9" r="3.8"/>
<circle cx="574.4" cy="888.1" r="3.8"/>
<circle cx="570.6" cy="890.0" r="3.8"/>
<circle cx="563.8" cy="892.1" r="3.8"/>
<circle cx="544.4" cy="893.4" r="3.8"/>
<circle cx="512.2" cy="894.0" r="3.8"/>
<circle cx="479.4" cy="896.9" r="3.8"/>
<circle cx="485.6" cy="899.0" r="3.8"/>
<circle cx="471.9" cy="900.6" r="3.8"/>
<circle cx="468.8" cy="904.0" r="3.8"/>
<circle cx="458.8" cy="905.6" r="3.8"/>
<circle cx="518.8" cy="899.8" r="3.8"/>
<circle cx="553.1" cy="901.2" r="3.8"/>
<circle cx="501.5" cy="901.9" r="3.8"/>
<circle cx="482.2" cy="907.9" r="3.8"/>
<circle cx="508.1" cy="911.2" r="3.8"/>
<circle cx="517.5" cy="910.0" r="3.8"/>
<circle cx="503.1" cy="913.8" r="3.8"/>
<circle cx="609.4" cy="316.5" r="3.8"/>
<circle cx="617.5" cy="322.5" r="3.8"/>
<circle cx="588.8" cy="320.0" r="3.8"/>
<circle cx="582.5" cy="324.4" r="3.8"/>
<circle cx="587.5" cy="325.0" r="3.8"/>
<circle cx="592.5" cy="329.4" r="3.8"/>
<circle cx="582.5" cy="338.1" r="3.8"/>
<circle cx="586.2" cy="341.9" r="3.8"/>
<circle cx="590.0" cy="345.0" r="3.8"/>
<circle cx="593.8" cy="341.2" r="3.8"/>
<circle cx="597.5" cy="337.5" r="3.8"/>
<circle cx="623.8" cy="341.9" r="3.8"/>
<circle cx="625.0" cy="346.2" r="3.8"/>
<circle cx="618.8" cy="353.8" r="3.8"/>
<circle cx="626.5" cy="353.8" r="3.8"/>
<circle cx="603.1" cy="350.0" r="3.8"/>
<circle cx="596.2" cy="352.5" r="3.8"/>
<circle cx="583.8" cy="361.2" r="3.8"/>
<circle cx="586.2" cy="367.5" r="3.8"/>
<circle cx="593.8" cy="364.0" r="3.8"/>
<circle cx="611.9" cy="365.6" r="3.8"/>
<circle cx="611.9" cy="368.1" r="3.8"/>
<circle cx="590.0" cy="375.0" r="3.8"/>
<circle cx="594.4" cy="374.4" r="3.8"/>
<circle cx="591.2" cy="378.8" r="3.8"/>
<circle cx="586.9" cy="383.8" r="3.8"/>
<circle cx="593.1" cy="383.1" r="3.8"/>
<circle cx="583.8" cy="393.8" r="3.8"/>
<circle cx="596.9" cy="391.2" r="3.8"/>
<circle cx="593.1" cy="396.2" r="3.8"/>
<circle cx="583.1" cy="400.0" r="3.8"/>
<circle cx="581.9" cy="405.0" r="3.8"/>
<circle cx="596.2" cy="405.6" r="3.8"/>
<circle cx="591.2" cy="407.5" r="3.8"/>
<circle cx="588.8" cy="410.0" r="3.8"/>
<circle cx="595.0" cy="410.6" r="3.8"/>
<circle cx="590.0" cy="414.4" r="3.8"/>
<circle cx="598.8" cy="417.5" r="3.8"/>
<circle cx="604.4" cy="418.5" r="3.8"/>
<circle cx="588.4" cy="446.2" r="3.8"/>
<circle cx="656.2" cy="455.6" r="3.8"/>
<circle cx="596.5" cy="641.8" r="3.8"/>
<circle cx="623.4" cy="798.8" r="3.8"/>
<circle cx="640.0" cy="809.0" r="3.8"/>
<circle cx="590.0" cy="816.2" r="3.8"/>
<circle cx="587.5" cy="819.8" r="3.8"/>
<circle cx="613.4" cy="828.8" r="3.8"/>
<circle cx="582.9" cy="838.5" r="3.8"/>
<circle cx="611.6" cy="846.6" r="3.8"/>
<circle cx="587.5" cy="855.2" r="3.8"/>
<circle cx="604.8" cy="866.2" r="3.8"/>
<circle cx="596.2" cy="870.6" r="3.8"/>
<circle cx="593.1" cy="877.5" r="3.8"/>
<circle cx="586.6" cy="893.1" r="3.8"/>
<circle cx="594.4" cy="896.5" r="3.8"/>
<circle cx="606.9" cy="891.9" r="3.8"/>
<circle cx="617.5" cy="896.5" r="3.8"/>
<circle cx="624.8" cy="891.2" r="3.8"/>
<circle cx="628.8" cy="898.1" r="3.8"/>
<circle cx="626.9" cy="901.9" r="3.8"/>
<circle cx="622.2" cy="908.1" r="3.8"/>
<circle cx="613.5" cy="909.8" r="3.8"/>
<circle cx="655.0" cy="886.9" r="3.8"/>
<circle cx="583.5" cy="913.1" r="3.8"/>
<circle cx="422.5" cy="561.2" r="3.8"/>
<circle cx="418.8" cy="557.5" r="3.8"/>
<circle cx="403.8" cy="537.5" r="3.8"/>
<circle cx="443.8" cy="660.0" r="3.8"/>
<circle cx="471.2" cy="661.2" r="3.8"/>
<circle cx="466.2" cy="692.5" r="3.8"/>
<circle cx="473.8" cy="712.5" r="3.8"/>
<circle cx="480.0" cy="715.0" r="3.8"/>
<circle cx="423.8" cy="725.0" r="3.8"/>
<circle cx="441.2" cy="662.5" r="3.8"/>
<circle cx="437.5" cy="658.8" r="3.8"/>
<circle cx="471.9" cy="662.5" r="3.8"/>
<circle cx="470.0" cy="713.1" r="3.8"/>
<circle cx="480.0" cy="716.2" r="3.8"/>
<circle cx="475.0" cy="718.8" r="3.8"/>
<circle cx="461.2" cy="727.5" r="3.8"/>
<circle cx="465.0" cy="731.2" r="3.8"/>
<circle cx="425.0" cy="725.0" r="3.8"/>
<circle cx="428.8" cy="681.2" r="3.8"/>
<circle cx="405.0" cy="655.0" r="3.8"/>
<circle cx="462.5" cy="730.0" r="3.8"/>
<circle cx="470.0" cy="737.5" r="3.8"/>
<circle cx="477.5" cy="747.5" r="3.8"/>
<circle cx="485.0" cy="753.8" r="3.8"/>
<circle cx="466.2" cy="760.0" r="3.8"/>
<circle cx="475.0" cy="757.5" r="3.8"/>
<circle cx="482.5" cy="732.5" r="3.8"/>
<circle cx="492.5" cy="802.5" r="3.8"/>
<circle cx="497.5" cy="798.8" r="3.8"/>
<circle cx="493.8" cy="821.2" r="3.8"/>
<circle cx="460.0" cy="830.0" r="3.8"/>
<circle cx="465.0" cy="840.0" r="3.8"/>
<circle cx="500.0" cy="861.2" r="3.8"/>
<circle cx="579.8" cy="326.4" r="3.8"/>
<circle cx="586.5" cy="323.0" r="3.8"/>
<circle cx="581.5" cy="363.0" r="3.8"/>
<circle cx="400.0" cy="396.9" r="3.8"/>
<circle cx="393.9" cy="400.2" r="3.8"/>
<circle cx="390.2" cy="410.0" r="3.8"/>
<circle cx="392.5" cy="422.2" r="3.8"/>
<circle cx="371.9" cy="430.6" r="3.8"/>
<circle cx="368.1" cy="433.4" r="3.8"/>
<circle cx="407.0" cy="436.2" r="3.8"/>
<circle cx="412.7" cy="433.9" r="3.8"/>
<circle cx="389.7" cy="440.0" r="3.8"/>
<circle cx="391.2" cy="507.5" r="3.8"/>
<circle cx="387.5" cy="501.0" r="3.8"/>
<circle cx="406.2" cy="512.2" r="3.8"/>
<circle cx="402.5" cy="535.6" r="3.8"/>
<circle cx="398.8" cy="541.2" r="3.8"/>
<circle cx="421.2" cy="559.0" r="3.8"/>
<circle cx="394.0" cy="479.4" r="3.8"/>
<circle cx="390.3" cy="483.1" r="3.8"/>
<circle cx="460.8" cy="747.0" r="3.8"/>
<circle cx="472.5" cy="760.6" r="3.8"/>
<circle cx="457.5" cy="782.7" r="3.8"/>
<circle cx="475.3" cy="792.5" r="3.8"/>
<circle cx="481.0" cy="796.2" r="3.8"/>
<circle cx="510.0" cy="767.2" r="3.8"/>
<circle cx="463.4" cy="839.4" r="3.8"/>
<circle cx="470.9" cy="835.6" r="3.8"/>
<circle cx="457.8" cy="835.6" r="3.8"/>
<circle cx="496.2" cy="866.6" r="3.8"/>
</g>
<path fill="none" stroke="#ff0000" stroke-width="2.25" stroke-linejoin="round" stroke-linecap="round" d="M503.1,913.8C501.7,908.5 497.1,893.1 494.4,882.5C491.6,871.9 489.1,859.8 486.6,850.0C484.1,840.2 481.9,832.5 479.6,823.8C477.3,815.0 474.9,806.2 472.6,797.5C470.3,788.8 468.0,779.2 465.9,771.2C463.8,763.3 461.8,756.5 460.1,750.0C458.5,743.5 458.1,739.5 456.0,732.0C453.9,724.5 449.9,712.6 447.5,705.0C445.1,697.4 443.6,692.5 441.7,686.2C439.8,680.0 438.1,673.8 435.9,667.5C433.7,661.2 431.2,655.0 428.8,648.8C426.3,642.5 423.8,637.9 421.2,630.0C418.8,622.1 416.0,609.2 413.8,601.2C411.5,593.3 409.7,588.8 407.5,582.5C405.3,576.2 402.8,570.0 400.6,563.8C398.4,557.5 396.3,551.2 394.5,545.0C392.7,538.8 391.2,532.1 389.6,526.2C388.0,520.4 386.2,515.0 385.0,510.0C383.8,505.0 383.2,501.4 382.4,496.0C381.6,490.6 380.9,483.7 380.2,477.5C379.5,471.3 378.7,465.0 378.1,458.8C377.5,452.5 376.8,446.3 376.4,440.0C376.0,433.7 375.9,427.2 376.0,421.0C376.1,414.8 376.5,407.2 376.9,402.5C377.2,397.8 377.6,395.8 378.1,392.5C378.6,389.2 379.3,385.8 380.0,382.5C380.7,379.2 381.5,375.8 382.5,372.5C383.5,369.2 384.6,366.0 386.2,362.5C387.9,359.0 390.6,354.5 392.5,351.2C394.4,348.0 396.0,345.4 397.5,343.1C399.0,340.8 400.1,339.4 401.2,337.5C402.4,335.6 403.7,332.8 404.2,331.9C403.3,330.8 400.5,327.3 398.8,325.0C397.0,322.7 395.6,320.1 393.8,318.1C391.9,316.1 389.6,314.5 387.5,312.8C385.4,311.1 383.2,309.6 381.2,308.1C379.3,306.6 376.5,304.5 375.6,303.8L368.8,304.0L362.5,293.4L375.6,303.8C376.5,302.9 379.3,300.3 381.2,298.8C383.2,297.2 385.4,295.7 387.5,294.4C389.6,293.1 391.7,291.8 393.8,291.0C395.8,290.2 398.1,289.9 400.0,289.7C401.9,289.4 402.7,289.2 405.0,289.5C407.3,289.8 411.9,291.0 414.0,291.5C416.1,292.0 414.8,291.6 417.5,292.5C420.2,293.4 425.8,295.2 430.0,296.9C434.2,298.6 437.8,300.2 442.5,302.5C447.2,304.8 454.7,308.8 458.0,310.6C461.3,312.4 459.7,311.3 462.5,313.1C465.3,314.9 470.8,318.5 475.0,321.2C479.2,324.0 483.2,326.2 487.5,329.4C491.8,332.6 496.2,336.5 500.7,340.7C505.2,344.9 510.6,349.9 514.7,354.7C518.8,359.5 522.4,365.2 525.4,369.7C528.4,374.2 530.9,377.7 533.0,381.6C535.1,385.6 536.1,389.1 538.3,393.4C540.4,397.7 543.4,402.6 545.9,407.3C548.4,412.0 551.5,418.0 553.4,421.3C555.3,424.6 556.5,426.2 557.1,427.2L570.0,432.1C571.4,430.5 576.0,425.4 578.1,422.4C580.2,419.3 581.0,417.6 582.4,413.8C583.8,410.0 585.1,405.2 586.7,399.8C588.3,394.4 590.3,388.0 592.1,381.6C593.9,375.2 596.1,366.8 597.4,361.2C598.7,355.6 598.6,353.7 600.0,348.3C601.4,342.9 604.0,335.3 605.9,328.6C607.8,321.9 609.5,314.1 611.2,308.1C613.0,302.1 614.5,297.4 616.1,292.5C617.7,287.6 619.4,283.0 621.0,278.8C622.6,274.6 624.3,270.7 625.9,267.1C627.5,263.5 630.0,258.9 630.8,257.3C631.7,255.7 634.4,250.6 636.1,247.7C637.8,244.8 639.0,242.9 641.0,239.8C643.0,236.7 645.8,232.4 647.9,229.1C650.0,225.8 651.6,223.4 653.8,219.8C656.0,216.1 659.0,210.8 661.0,207.2C663.0,203.7 664.3,201.5 666.0,198.5C667.7,195.5 669.3,192.2 671.0,189.1C672.7,186.0 674.4,182.9 676.0,179.8C677.6,176.6 679.0,173.5 680.5,170.4C682.0,167.3 684.0,162.8 684.8,161.3C683.5,162.6 679.9,166.7 677.5,169.3C675.1,171.9 672.5,174.4 670.3,176.8C668.0,179.2 665.9,181.6 664.0,184.0C662.1,186.4 660.5,188.6 659.0,191.0C657.5,193.4 656.1,195.9 654.9,198.2C653.6,200.5 652.6,202.7 651.5,205.0C650.4,207.3 649.5,209.8 648.5,212.2C647.5,214.5 646.8,216.6 645.7,219.1C644.6,221.6 643.3,224.1 642.0,227.1C640.7,230.1 639.5,233.5 638.1,236.9C636.7,240.3 634.9,244.3 633.7,247.7C632.5,251.1 631.3,255.7 630.8,257.3"/>
<g stroke="#000" stroke-width="2.4" fill="none" stroke-linecap="butt">
<rect x="111.25" y="55.5" width="859.25" height="859.1"/>
<path d="M111.25,55.5v24M111.25,914.6v-24M154.21,55.5v12M154.21,914.6v-12M197.18,55.5v12M197.18,914.6v-12M240.14,55.5v12M240.14,914.6v-12M283.10,55.5v12M283.10,914.6v-12M326.06,55.5v24M326.06,914.6v-24M369.03,55.5v12M369.03,914.6v-12M411.99,55.5v12M411.99,914.6v-12M454.95,55.5v12M454.95,914.6v-12M497.91,55.5v12M497.91,914.6v-12M540.88,55.5v24M540.88,914.6v-24M583.84,55.5v12M583.84,914.6v-12M626.80,55.5v12M626.80,914.6v-12M669.76,55.5v12M669.76,914.6v-12M712.73,55.5v12M712.73,914.6v-12M755.69,55.5v24M755.69,914.6v-24M798.65,55.5v12M798.65,914.6v-12M841.61,55.5v12M841.61,914.6v-12M884.58,55.5v12M884.58,914.6v-12M927.54,55.5v12M927.54,914.6v-12M970.50,55.5v24M970.50,914.6v-24M111.25,55.50h24M970.5,55.50h-24M111.25,127.09h12M970.5,127.09h-12M111.25,198.68h12M970.5,198.68h-12M111.25,270.27h12M970.5,270.27h-12M111.25,341.87h24M970.5,341.87h-24M111.25,413.46h12M970.5,413.46h-12M111.25,485.05h12M970.5,485.05h-12M111.25,556.64h12M970.5,556.64h-12M111.25,628.23h24M970.5,628.23h-24M111.25,699.83h12M970.5,699.83h-12M111.25,771.42h12M970.5,771.42h-12M111.25,843.01h12M970.5,843.01h-12M111.25,914.60h24M970.5,914.60h-24"/>
</g>
<g font-family="'Liberation Serif', 'DejaVu Serif', serif" fill="#000" stroke="#000" stroke-linejoin="round">
<text font-size="36" stroke-width="0.3" y="40.3"><tspan x="159.6" textLength="71" lengthAdjust="spacingAndGlyphs">NGC</tspan> <tspan x="252.6" textLength="83.5" lengthAdjust="spacingAndGlyphs">1777</tspan></text>
<text x="71" y="959.2" font-size="38" font-weight="normal" stroke-width="0.4" textLength="82" lengthAdjust="spacingAndGlyphs">−0.5</text>
<text x="316.3" y="959.2" font-size="38" font-weight="normal" stroke-width="0.4" textLength="20" lengthAdjust="spacingAndGlyphs">0</text>
<text x="514" y="959.2" font-size="38" font-weight="normal" stroke-width="0.4" textLength="54" lengthAdjust="spacingAndGlyphs">0.5</text>
<text x="748.3" y="959.2" font-size="38" font-weight="normal" stroke-width="0.4" textLength="14.5" lengthAdjust="spacingAndGlyphs">1</text>
<text x="946" y="959.2" font-size="38" font-weight="normal" stroke-width="0.4" textLength="51.5" lengthAdjust="spacingAndGlyphs">1.5</text>
<text x="47.6" y="68.3" font-size="38" font-weight="normal" stroke-width="0.4" textLength="43.2" lengthAdjust="spacingAndGlyphs">18</text>
<text x="47.6" y="354.7" font-size="38" font-weight="normal" stroke-width="0.4" textLength="43.2" lengthAdjust="spacingAndGlyphs">20</text>
<text x="47.6" y="641.0" font-size="38" font-weight="normal" stroke-width="0.4" textLength="43.2" lengthAdjust="spacingAndGlyphs">22</text>
<text x="47.6" y="927.4" font-size="38" font-weight="normal" stroke-width="0.4" textLength="43.2" lengthAdjust="spacingAndGlyphs">24</text>
<text x="421.8" y="993.9" font-size="34.5" font-weight="normal" stroke-width="0.1" textLength="35" lengthAdjust="spacingAndGlyphs">m</text>
<text x="458" y="1003.75" font-size="19" font-weight="bold" stroke-width="0.15" textLength="68" lengthAdjust="spacingAndGlyphs">F450W</text>
<text x="529" y="995.3" font-size="34.5" font-weight="normal" stroke-width="0.4" textLength="24" lengthAdjust="spacingAndGlyphs">−</text>
<text x="555.6" y="993.9" font-size="34.5" font-weight="normal" stroke-width="0.1" textLength="35" lengthAdjust="spacingAndGlyphs">m</text>
<text x="592" y="1003.75" font-size="19" font-weight="bold" stroke-width="0.15" textLength="67.5" lengthAdjust="spacingAndGlyphs">F555W</text>
<g transform="translate(22.4,536.3) rotate(-90)">
<text x="0" y="0" font-size="40.5" font-weight="normal" stroke-width="0.1" textLength="35.5" lengthAdjust="spacingAndGlyphs">m</text>
<text x="37" y="10.3" font-size="23.6" font-weight="bold" stroke-width="0.15" textLength="66" lengthAdjust="spacingAndGlyphs">F450W</text>
</g>
</g>
</svg>
</body></html>
